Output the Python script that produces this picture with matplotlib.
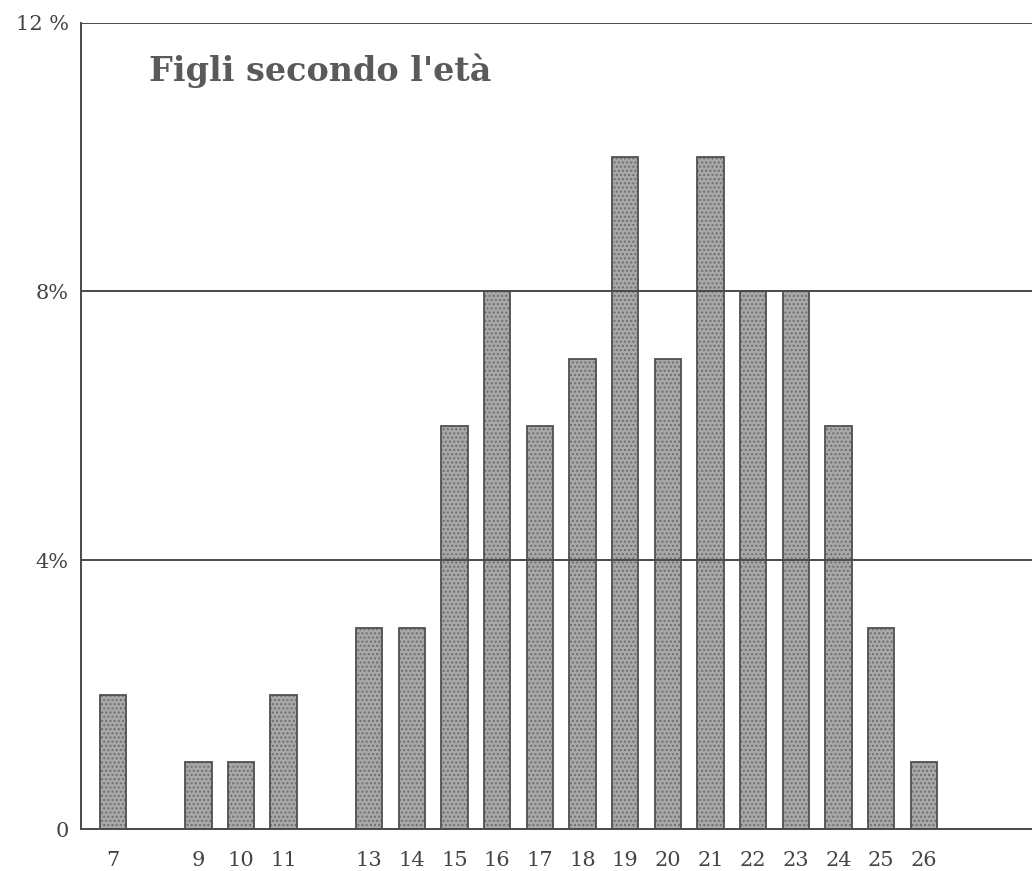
import matplotlib.pyplot as plt

ages = [7, 9, 10, 11, 13, 14, 15, 16, 17, 18, 19, 20, 21, 22, 23, 24, 25, 26]
percent = [2, 1, 1, 2, 3, 3, 6, 8, 6, 7, 10, 7, 10, 8, 8, 6, 3, 1]
y_ticks = [0, 4, 8, 12]
y_labels = ['0', '4%', '8%', '12 %']
title = "Figli secondo l'età"

plt.rcParams['font.family'] = ['DejaVu Serif']
plt.rcParams['hatch.linewidth'] = 1.0

fig = plt.figure(figsize=(10.32, 8.71), dpi=100)
ax = fig.add_axes([0.0785, 0.048, 0.93, 0.926])

# stippled fill, then dark outline
ax.bar(ages, percent, width=0.62, color='#a8a8a8', edgecolor='#6e6e6e',
       hatch='....', linewidth=0, zorder=2)
ax.bar(ages, percent, width=0.62, fill=False, edgecolor='#505050',
       linewidth=1.3, zorder=3)

for y in y_ticks[1:]:
	ax.axhline(y, color='#4a4a4a', linewidth=1.4, zorder=4)

ax.set_xlim(6.25, 28.74)
ax.set_ylim(0, 12)
ax.set_xticks(ages)
ax.set_xticklabels([str(a) for a in ages], fontsize=15, color='#444444')
ax.set_yticks(y_ticks)
ax.set_yticklabels(y_labels, fontsize=15, color='#444444')
ax.tick_params(axis='x', length=0, pad=16)
ax.tick_params(axis='y', length=0, pad=9)

for s in ['top', 'right']:
	ax.spines[s].set_visible(False)
for s in ['left', 'bottom']:
	ax.spines[s].set_color('#4a4a4a')
	ax.spines[s].set_linewidth(1.4)
	ax.spines[s].set_zorder(5)

ax.text(0.071, 0.94, title, transform=ax.transAxes, fontsize=24,
	fontweight='bold', color='#5a5a5a', va='center', ha='left')

fig.savefig('out.png', dpi=100)
